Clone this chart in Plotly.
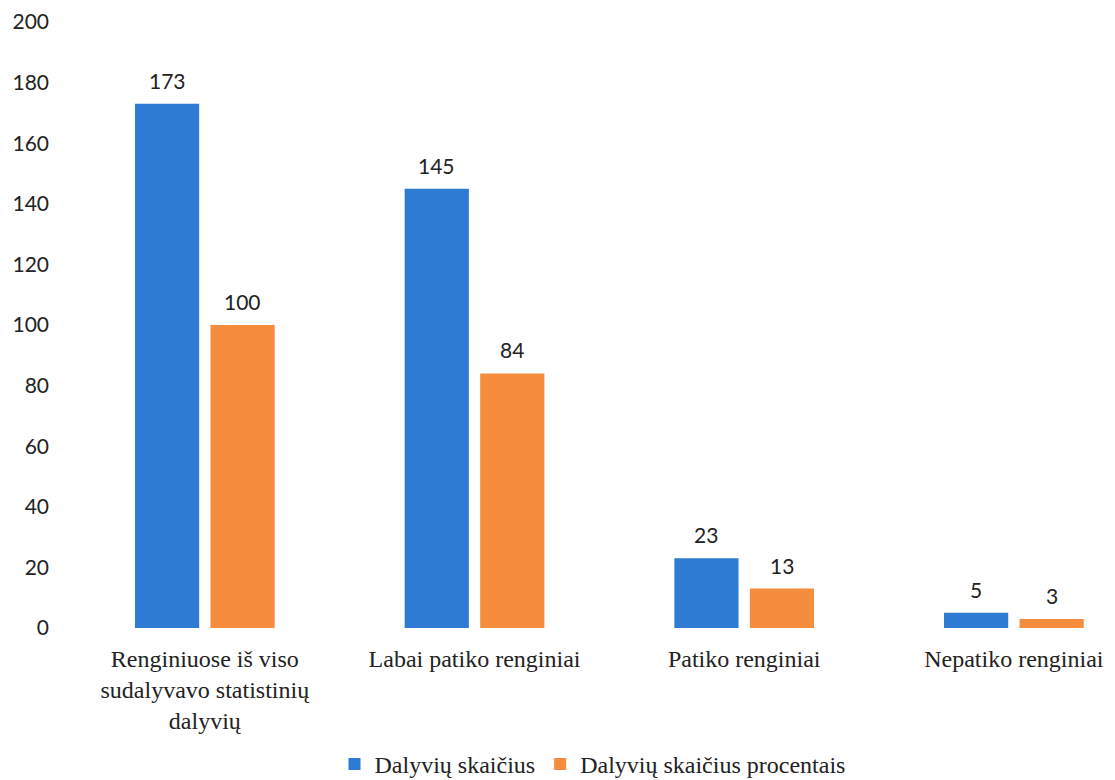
import plotly.graph_objects as go

categories = [
    "Renginiuose iš viso<br>sudalyvavo statistinių<br>dalyvių",
    "Labai patiko renginiai",
    "Patiko renginiai",
    "Nepatiko renginiai",
]
counts = [173, 145, 23, 5]
percents = [100, 84, 13, 3]
y_ticks = list(range(0, 201, 20))

blue = "#2e7bd4"
orange = "#f68c3e"
label_font = dict(family="Lato, Carlito, sans-serif", size=21, color="#222222")

fig = go.Figure()
fig.add_trace(go.Bar(
    x=categories, y=counts, name="Dalyvių skaičius",
    marker=dict(color=blue, line=dict(width=0)),
))
fig.add_trace(go.Bar(
    x=categories, y=percents, name="Dalyvių skaičius procentais",
    marker=dict(color=orange, line=dict(width=0)),
))

# value labels above each bar, placed at the bar centres of each group
bargap = 0.44
bargroupgap = 0.15
half = (1 - bargap) / 4
for i, (c, p) in enumerate(zip(counts, percents)):
    for val, dx in ((c, -half), (p, half)):
        fig.add_annotation(
            x=i + dx, y=val, xref="x", yref="y", text=str(val),
            showarrow=False, yanchor="bottom", yshift=9, font=label_font,
        )

fig.update_layout(
    width=1115, height=780,
    margin=dict(l=70, r=0, t=22, b=152, autoexpand=False),
    paper_bgcolor="white", plot_bgcolor="white",
    barmode="group", bargap=bargap, bargroupgap=bargroupgap,
    showlegend=True,
    legend=dict(
        orientation="h", x=0.5, xanchor="center",
        y=-0.188, yanchor="top",
        font=dict(family="Liberation Serif, Times New Roman, serif", size=24, color="#222222"),
        itemwidth=30,
    ),
    xaxis=dict(
        range=[-0.5, 3.375], showgrid=False, showline=False, zeroline=False,
        ticks="", ticklabelstandoff=14,
        tickfont=dict(family="Liberation Serif, Times New Roman, serif", size=24, color="#222222"),
    ),
    yaxis=dict(
        range=[0, 200], tickvals=y_ticks, showgrid=False, showline=False,
        zeroline=False, ticks="", ticklabelstandoff=20,
        tickfont=dict(family="Lato, Carlito, sans-serif", size=21, color="#222222"),
    ),
)

fig.write_html("out.html")
